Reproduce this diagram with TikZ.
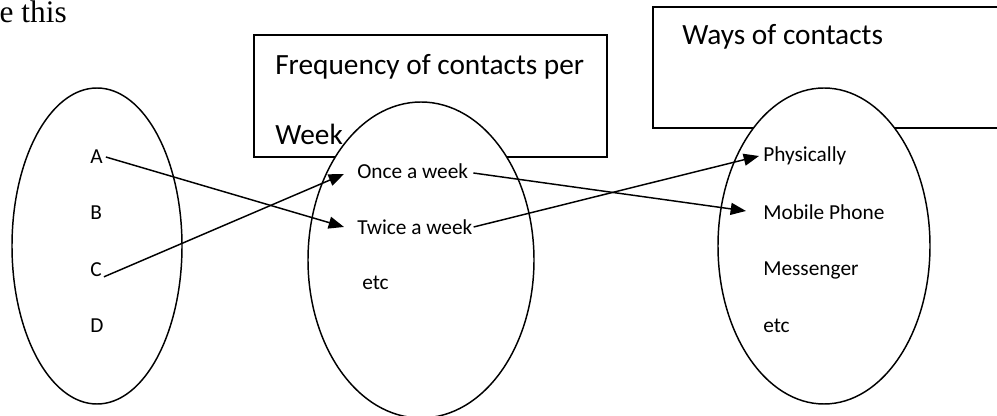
\documentclass[tikz,border=0pt]{standalone}
\usepackage{fontspec}
\setmainfont{Carlito}
\newfontfamily\timesfont{Liberation Serif}
\usetikzlibrary{arrows.meta,calc}
\tikzset{
  shape line/.style={line width=1.1pt, black},
  setbox/.style={shape line},
  setoval/.style={shape line, fill=white},
  item/.style={inner sep=0pt, anchor=west, font=\fontsize{16}{19}\selectfont},
  title/.style={inner sep=0pt, anchor=west, font=\fontsize{22}{26}\selectfont},
  link/.style={line width=1.1pt, -{Triangle[length=11.5pt,width=9pt]}},
}
\begin{document}
\begin{tikzpicture}[x=0.75pt,y=-0.75pt]
\useasboundingbox (0,0) rectangle (997,416);
\begin{scope}
\clip (0,0) rectangle (997,416);
% stray text from the page
\node[inner sep=0pt, anchor=base east, font=\timesfont\fontsize{23.5}{28}\selectfont] (cap) at (67,23) {e this};
% boxes
\draw[setbox] (254,35) rectangle (607,157);
\draw[setbox] (653,7) rectangle (1010,128);
% ellipses
\draw[setoval] (97,246) ellipse [x radius=85, y radius=158];
\draw[setoval] (421,260) ellipse [x radius=113, y radius=158];
\draw[setoval] (824,246) ellipse [x radius=106, y radius=158];
\end{scope}
% titles
\node[title] (freqA) at (275,67) {Frequency of contacts per};
\node[title] (freqB) at (275,134) {Week};
\node[title] (ways) at (682,37) {Ways of contacts};
% left set
\node[item] (A) at (90,157) {A};
\node[item] (B) at (90,213) {B};
\node[item] (C) at (90,270) {C};
\node[item] (D) at (90,326) {D};
% middle set
\node[item] (once) at (357,171) {Once a week};
\node[item] (twice) at (357,227) {Twice a week};
\node[item] (etcM) at (362,283) {etc};
% right set
\node[item] (phys) at (763,156) {Physically};
\node[item] (mobile) at (763,212) {Mobile Phone};
\node[item] (mess) at (763,270) {Messenger};
\node[item] (etcR) at (763,326) {etc};
% connectors
\draw[link] ($(A.east)+(3,0)$) -- ($(twice.west)+(-13,0)$);
\draw[link] ($(C.base east)+(2,0)$) -- ($(once.west)+(-13,3)$);
\draw[link] ($(once.east)+(5,2)$) -- ($(mobile.west)+(-17,-1)$);
\draw[link] ($(twice.east)+(1,0)$) -- ($(phys.west)+(-4,0)$);
\end{tikzpicture}
\end{document}
